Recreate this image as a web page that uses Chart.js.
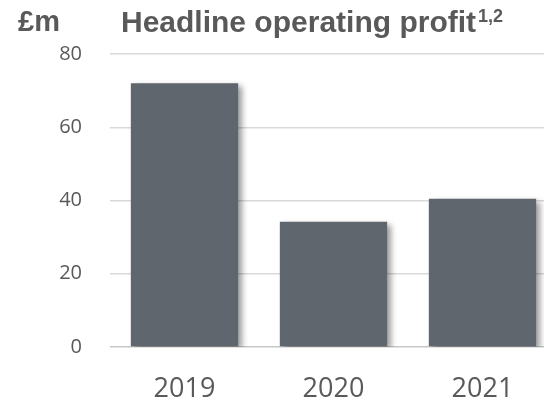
<!DOCTYPE html>
<html>
<head>
<meta charset="utf-8">
<script src="https://cdn.jsdelivr.net/npm/chart.js@4"></script>
<style>
  html, body { margin: 0; padding: 0; overflow: hidden; background: #fff; }
  #wrap { width: 560px; height: 402px; }
</style>
</head>
<body>
<div id="wrap"><canvas id="profitChart" width="560" height="402"></canvas></div>
<script>
"use strict";
const years = ['2019', '2020', '2021'];
const profit = [72, 34.2, 40.5];
const yTicks = [0, 20, 40, 60, 80];
const unitLabel = '£m';
const titleText = 'Headline operating profit';
const titleNotes = '1,2';

const textGrey = '#595959';

// heading drawn on top of the canvas
const headingPlugin = {
    id: 'heading',
    afterDraw(chart) {
        const ctx = chart.ctx;
        ctx.save();
        ctx.fillStyle = textGrey;
        ctx.textBaseline = 'alphabetic';
        ctx.font = 'bold 29px "Liberation Sans", Arial, sans-serif';
        ctx.fillText(unitLabel, 18, 31);
        ctx.font = 'bold 30px "Liberation Sans", Arial, sans-serif';
        ctx.fillText(titleText, 121, 32);
        const w = ctx.measureText(titleText).width;
        ctx.font = 'bold 18px "Liberation Sans", Arial, sans-serif';
        ctx.fillText(titleNotes, 121 + w + 2, 22);
        ctx.restore();
    }
};

// soft drop shadow behind the bars
const barShadow = {
    id: 'barShadow',
    beforeDatasetDraw(chart) {
        const ctx = chart.ctx;
        ctx.save();
        ctx.shadowColor = 'rgba(0, 0, 0, 0.4)';
        ctx.shadowBlur = 6;
        ctx.shadowOffsetX = 4;
        ctx.shadowOffsetY = 3;
    },
    afterDatasetDraw(chart) {
        chart.ctx.restore();
    }
};

const context = document.getElementById('profitChart');
new Chart(context, {
    type: 'bar',
    data: {
        labels: years,
        datasets: [{
            label: titleText,
            data: profit,
            backgroundColor: '#60666d',
            borderWidth: 0,
            categoryPercentage: 1,
            barPercentage: 0.72,
        }],
    },
    options: {
        responsive: false,
        animation: false,
        layout: { padding: { top: 54, right: 3, left: 0, bottom: 0 } },
        plugins: {
            legend: { display: false },
            tooltip: { enabled: false },
        },
        scales: {
            x: {
                grid: { display: false, drawTicks: false },
                border: { display: false },
                ticks: {
                    color: textGrey,
                    font: { family: '"Open Sans", sans-serif', size: 27 },
                    padding: 26,
                },
                afterFit(scale) { scale.height = 55; },
            },
            y: {
                min: 0,
                max: 80,
                afterBuildTicks(scale) {
                    scale.ticks = yTicks.map(v => ({ value: v }));
                },
                grid: {
                    drawTicks: false,
                    lineWidth: 1.5,
                    color: (c) => c.tick && c.tick.value === 0 ? '#c8c8c8' : '#d9d9d9',
                },
                border: { display: false },
                ticks: {
                    color: textGrey,
                    font: { family: '"Open Sans", sans-serif', size: 20 },
                    padding: 28,
                },
                afterFit(scale) { scale.width = 110; },
            },
        },
    },
    plugins: [barShadow, headingPlugin],
});
</script>
</body>
</html>
